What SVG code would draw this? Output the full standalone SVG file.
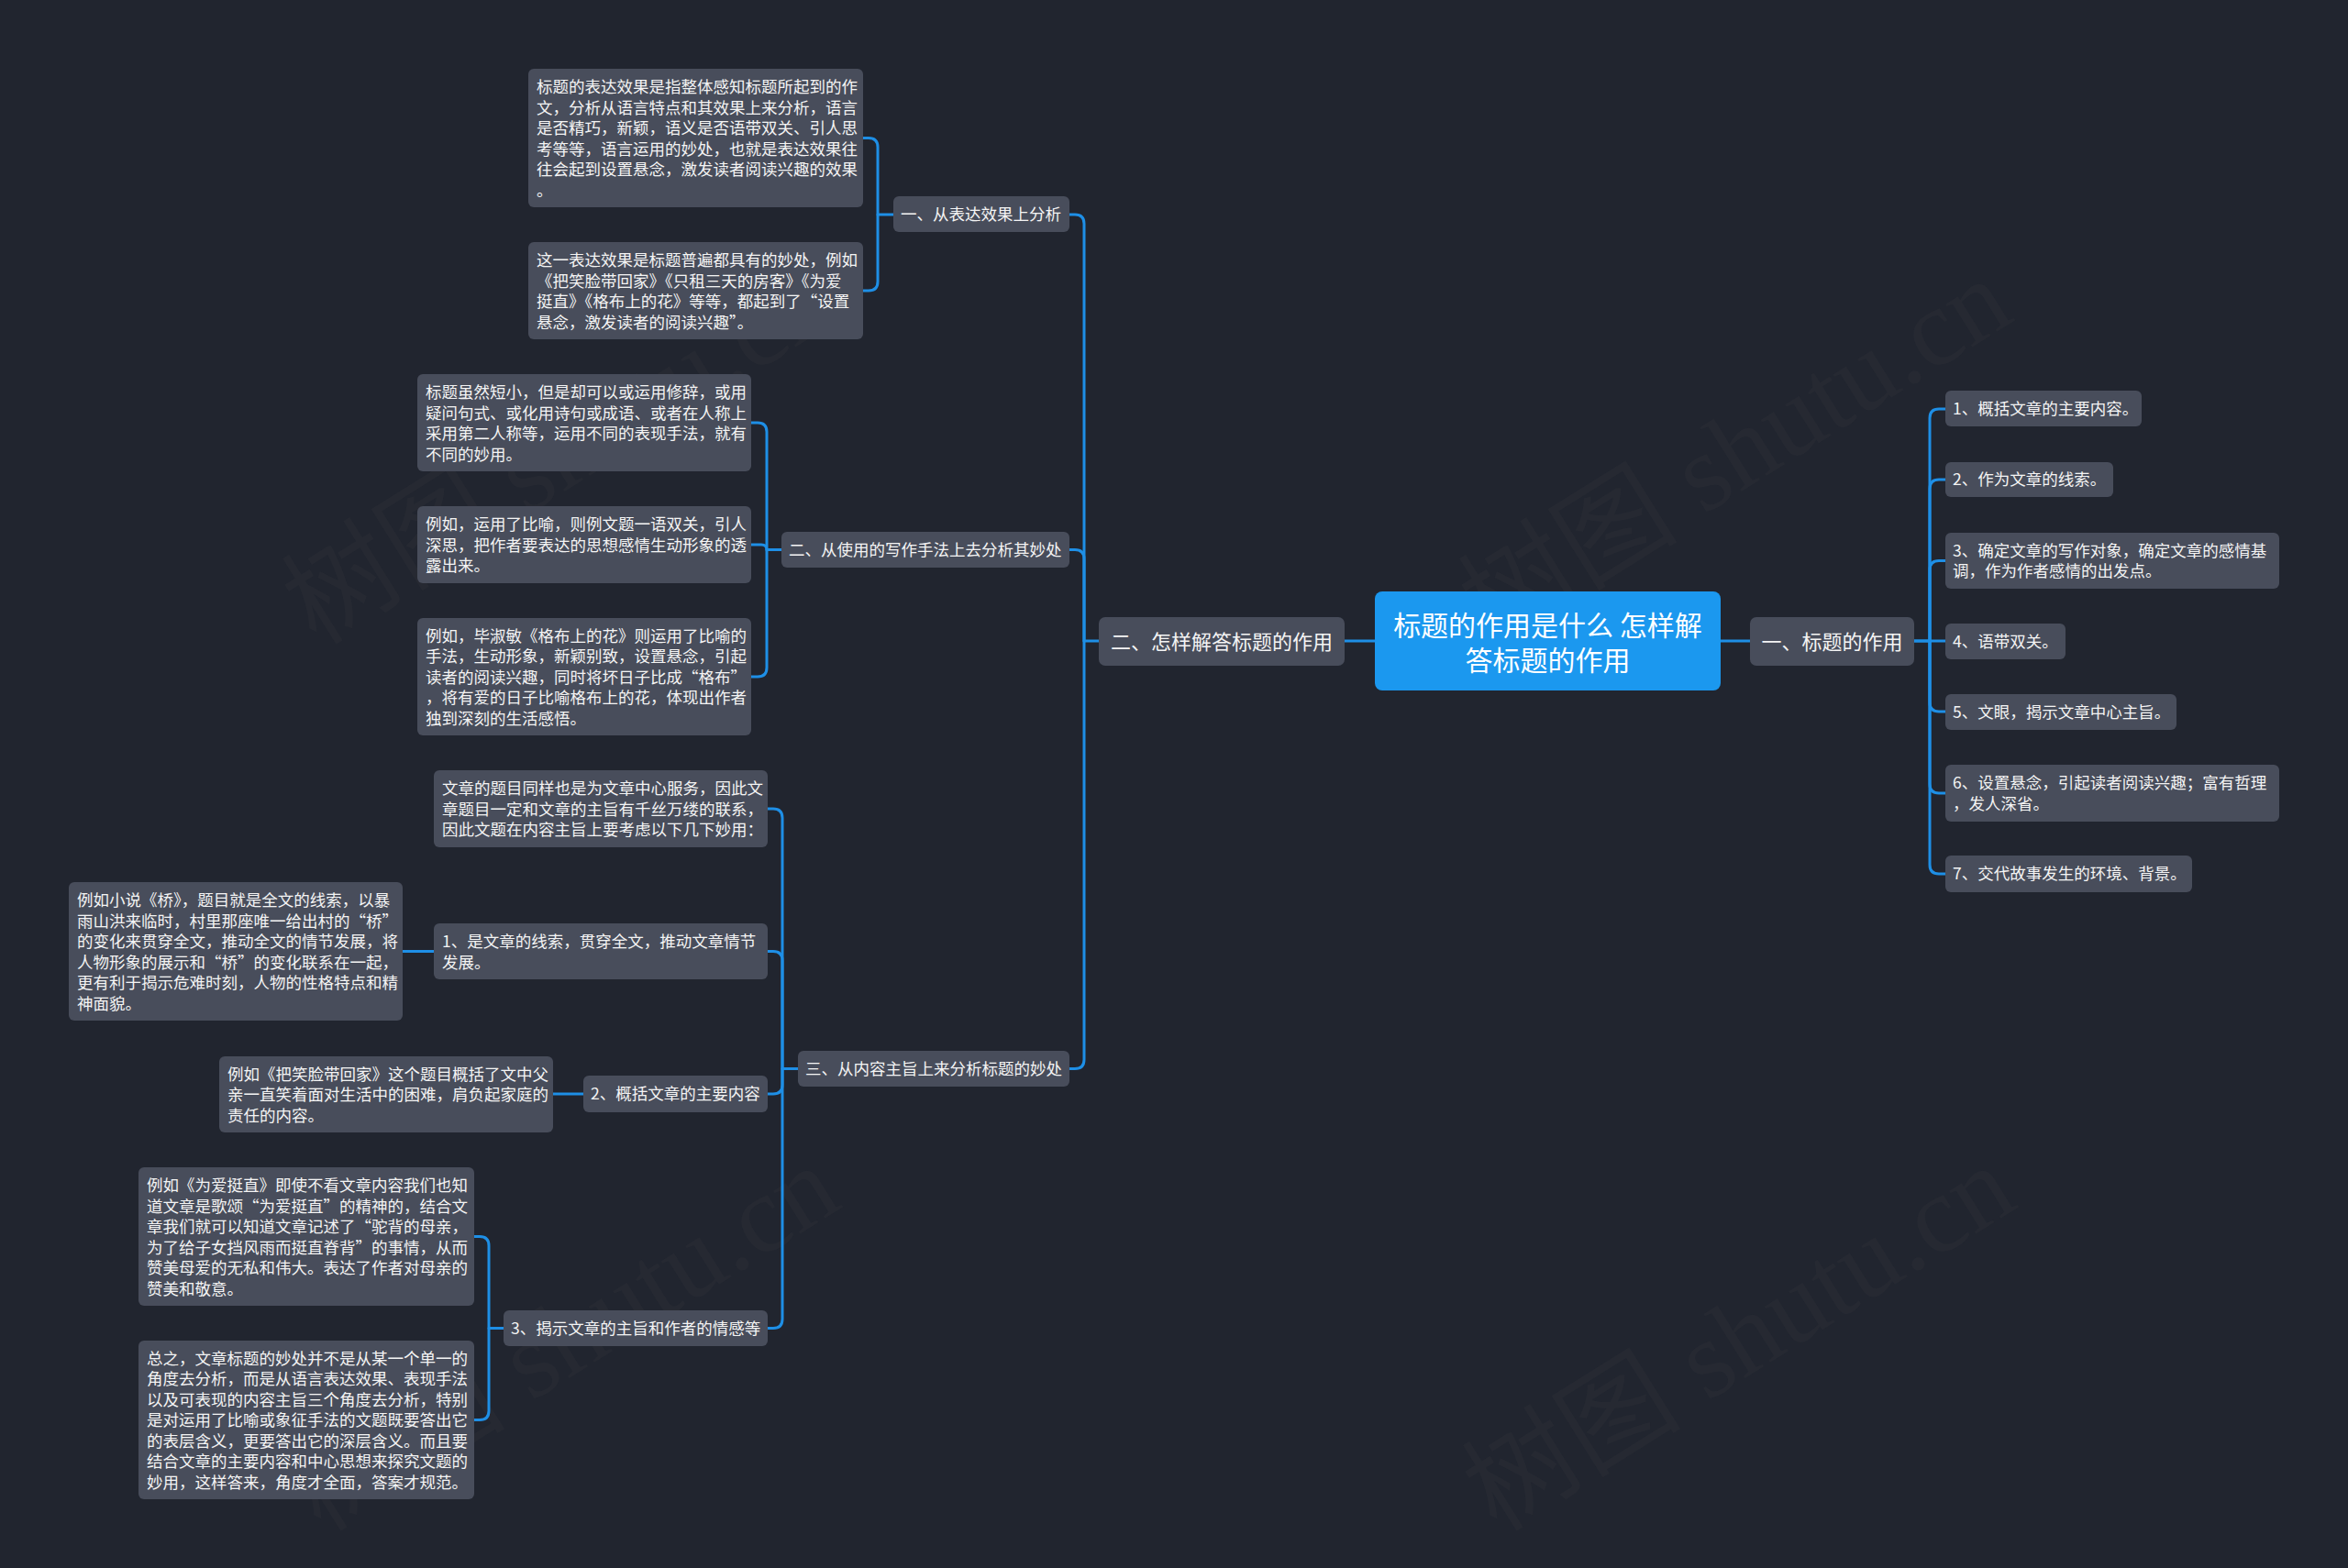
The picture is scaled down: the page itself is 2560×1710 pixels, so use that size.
<svg xmlns="http://www.w3.org/2000/svg" width="2560" height="1710" viewBox="0 0 2560 1710">
<style>
.bg{fill:#21252f}
.nd{fill:#484d5b}
.root{fill:#1b98ef}
.t{font-family:"Noto Sans CJK SC","Noto Sans",sans-serif;font-size:17.5px;fill:#f4f4f4;dominant-baseline:central;transform:translateY(-1.5px)}
.t1{font-family:"Noto Sans CJK SC","Noto Sans",sans-serif;font-size:22px;fill:#f4f4f4;dominant-baseline:central;text-anchor:middle;transform:translateY(-2px)}
.tr{font-family:"Noto Sans CJK SC","Noto Sans",sans-serif;font-size:30px;fill:#ffffff;dominant-baseline:central;text-anchor:middle;transform:translateY(-1px)}
.c{fill:none;stroke:#1e8fe6;stroke-width:3;stroke-linecap:round;stroke-linejoin:round}
.wm{font-family:"Liberation Serif","Noto Sans CJK SC",serif;font-size:120px;fill:#5a5a5a;fill-opacity:0.09}
</style>
<rect class="bg" x="0" y="0" width="2560" height="1710"/>

<g id="watermarks">
<text class="wm" transform="translate(345,705) rotate(-32)">树图 shutu.cn</text>
<text class="wm" transform="translate(1628,705) rotate(-32)">树图 shutu.cn</text>
<text class="wm" transform="translate(350,1672) rotate(-32)">树图 shutu.cn</text>
<text class="wm" transform="translate(1632,1672) rotate(-32)">树图 shutu.cn</text>
</g>

<g id="connectors">
<path class="c" d="M1876,699 H1908"/>
<path class="c" d="M1499,699 H1466"/>
<path class="c" d="M2087,699 H2104 V456 Q2104,446 2114,446 H2121"/>
<path class="c" d="M2104,699 V533 Q2104,523 2114,523 H2121"/>
<path class="c" d="M2104,699 V621.5 Q2104,611.5 2114,611.5 H2121"/>
<path class="c" d="M2087,699 H2121"/>
<path class="c" d="M2104,699 V766 Q2104,776 2114,776 H2121"/>
<path class="c" d="M2104,699 V855 Q2104,865 2114,865 H2121"/>
<path class="c" d="M2104,699 V943 Q2104,953 2114,953 H2121"/>
<path class="c" d="M1198,699 H1182 V244 Q1182,234 1172,234 H1166"/>
<path class="c" d="M1182,699 V609.5 Q1182,599.5 1172,599.5 H1166"/>
<path class="c" d="M1182,699 V1155.5 Q1182,1165.5 1172,1165.5 H1166"/>
<path class="c" d="M974,234 H957 V160.5 Q957,150.5 947,150.5 H941"/>
<path class="c" d="M957,234 V307 Q957,317 947,317 H941"/>
<path class="c" d="M852,599.5 H836 V471 Q836,461 826,461 H819"/>
<path class="c" d="M836,599.5 Q836,594 830,594 H819"/>
<path class="c" d="M836,599.5 V728 Q836,738 826,738 H819"/>
<path class="c" d="M870,1165.5 H853 V892 Q853,882 843,882 H837"/>
<path class="c" d="M853,1165.5 V1047.5 Q853,1037.5 843,1037.5 H837"/>
<path class="c" d="M853,1165.5 V1183 Q853,1193 843,1193 H837"/>
<path class="c" d="M853,1165.5 V1438.5 Q853,1448.5 843,1448.5 H837"/>
<path class="c" d="M473,1037.5 H439"/>
<path class="c" d="M636,1193 H603"/>
<path class="c" d="M549,1448.5 H533 V1358.5 Q533,1348.5 523,1348.5 H517"/>
<path class="c" d="M533,1448.5 V1538.5 Q533,1548.5 523,1548.5 H517"/>
</g>

<g id="root">
<rect class="root" x="1499" y="645" width="377" height="108" rx="8"/>
<text class="tr" x="1687.5" y="681">标题的作用是什么 怎样解</text>
<text class="tr" x="1687.5" y="719">答标题的作用</text>
</g>

<g id="n-right-main">
<rect class="nd" x="1908" y="673" width="179" height="53" rx="7"/>
<text class="t1" x="1997.5" y="699.5">一、标题的作用</text>
</g>
<g id="n-left-main">
<rect class="nd" x="1198" y="673" width="268" height="53" rx="7"/>
<text class="t1" x="1332" y="699.5">二、怎样解答标题的作用</text>
</g>

<g id="r1"><rect class="nd" x="2121" y="426" width="214" height="39" rx="6"/><text class="t" x="2129" y="446">1、概括文章的主要内容。</text></g>
<g id="r2"><rect class="nd" x="2121" y="504" width="183" height="38" rx="6"/><text class="t" x="2129" y="523">2、作为文章的线索。</text></g>
<g id="r3"><rect class="nd" x="2121" y="581" width="364" height="61" rx="6"/><text class="t" x="2129" y="600.25"><tspan x="2129">3、确定文章的写作对象，确定文章的感情基</tspan><tspan x="2129" dy="22.5">调，作为作者感情的出发点。</tspan></text></g>
<g id="r4"><rect class="nd" x="2121" y="680" width="131" height="39" rx="6"/><text class="t" x="2129" y="699.5">4、语带双关。</text></g>
<g id="r5"><rect class="nd" x="2121" y="757" width="252" height="39" rx="6"/><text class="t" x="2129" y="776.5">5、文眼，揭示文章中心主旨。</text></g>
<g id="r6"><rect class="nd" x="2121" y="834" width="364" height="62" rx="6"/><text class="t" x="2129" y="853.75"><tspan x="2129">6、设置悬念，引起读者阅读兴趣；富有哲理</tspan><tspan x="2129" dy="22.5">，发人深省。</tspan></text></g>
<g id="r7"><rect class="nd" x="2121" y="933" width="269" height="40" rx="6"/><text class="t" x="2129" y="953">7、交代故事发生的环境、背景。</text></g>

<g id="b1"><rect class="nd" x="974" y="214" width="192" height="39" rx="6"/><text class="t" x="982" y="233.5">一、从表达效果上分析</text></g>
<g id="b2"><rect class="nd" x="852" y="580" width="314" height="39" rx="6"/><text class="t" x="860" y="599.5">二、从使用的写作手法上去分析其妙处</text></g>
<g id="b3"><rect class="nd" x="870" y="1146" width="296" height="39" rx="6"/><text class="t" x="878" y="1165.5">三、从内容主旨上来分析标题的妙处</text></g>

<g id="b1c1"><rect class="nd" x="576" y="75" width="365" height="151" rx="6"/><text class="t" x="585" y="94.75"><tspan x="585">标题的表达效果是指整体感知标题所起到的作</tspan><tspan x="585" dy="22.5">文，分析从语言特点和其效果上来分析，语言</tspan><tspan x="585" dy="22.5">是否精巧，新颖，语义是否语带双关、引人思</tspan><tspan x="585" dy="22.5">考等等，语言运用的妙处，也就是表达效果往</tspan><tspan x="585" dy="22.5">往会起到设置悬念，激发读者阅读兴趣的效果</tspan><tspan x="585" dy="22.5">。</tspan></text></g>
<g id="b1c2"><rect class="nd" x="576" y="264" width="365" height="106" rx="6"/><text class="t" x="585" y="283.5"><tspan x="585">这一表达效果是标题普遍都具有的妙处，例如</tspan><tspan x="585" dy="22.5">《把笑脸带回家》《只租三天的房客》《为爱</tspan><tspan x="585" dy="22.5">挺直》《格布上的花》等等，都起到了“设置</tspan><tspan x="585" dy="22.5">悬念，激发读者的阅读兴趣”。</tspan></text></g>

<g id="b2c1"><rect class="nd" x="455" y="408" width="364" height="106" rx="6"/><text class="t" x="464" y="427.5"><tspan x="464">标题虽然短小，但是却可以或运用修辞，或用</tspan><tspan x="464" dy="22.5">疑问句式、或化用诗句或成语、或者在人称上</tspan><tspan x="464" dy="22.5">采用第二人称等，运用不同的表现手法，就有</tspan><tspan x="464" dy="22.5">不同的妙用。</tspan></text></g>
<g id="b2c2"><rect class="nd" x="455" y="552" width="364" height="84" rx="6"/><text class="t" x="464" y="571.5"><tspan x="464">例如，运用了比喻，则例文题一语双关，引人</tspan><tspan x="464" dy="22.5">深思，把作者要表达的思想感情生动形象的透</tspan><tspan x="464" dy="22.5">露出来。</tspan></text></g>
<g id="b2c3"><rect class="nd" x="455" y="674" width="364" height="128" rx="6"/><text class="t" x="464" y="693"><tspan x="464">例如，毕淑敏《格布上的花》则运用了比喻的</tspan><tspan x="464" dy="22.5">手法，生动形象，新颖别致，设置悬念，引起</tspan><tspan x="464" dy="22.5">读者的阅读兴趣，同时将坏日子比成“格布”</tspan><tspan x="464" dy="22.5">，将有爱的日子比喻格布上的花，体现出作者</tspan><tspan x="464" dy="22.5">独到深刻的生活感悟。</tspan></text></g>

<g id="b3c1"><rect class="nd" x="473" y="840" width="364" height="84" rx="6"/><text class="t" x="482" y="859.5"><tspan x="482">文章的题目同样也是为文章中心服务，因此文</tspan><tspan x="482" dy="22.5">章题目一定和文章的主旨有千丝万缕的联系，</tspan><tspan x="482" dy="22.5">因此文题在内容主旨上要考虑以下几下妙用：</tspan></text></g>
<g id="b3c2"><rect class="nd" x="473" y="1007" width="364" height="61" rx="6"/><text class="t" x="482" y="1026.5"><tspan x="482">1、是文章的线索，贯穿全文，推动文章情节</tspan><tspan x="482" dy="22.5">发展。</tspan></text></g>
<g id="b3c2c"><rect class="nd" x="75" y="962" width="364" height="151" rx="6"/><text class="t" x="84" y="981.5"><tspan x="84">例如小说《桥》，题目就是全文的线索，以暴</tspan><tspan x="84" dy="22.5">雨山洪来临时，村里那座唯一给出村的“桥”</tspan><tspan x="84" dy="22.5">的变化来贯穿全文，推动全文的情节发展，将</tspan><tspan x="84" dy="22.5">人物形象的展示和“桥”的变化联系在一起，</tspan><tspan x="84" dy="22.5">更有利于揭示危难时刻，人物的性格特点和精</tspan><tspan x="84" dy="22.5">神面貌。</tspan></text></g>
<g id="b3c3"><rect class="nd" x="636" y="1173" width="201" height="40" rx="6"/><text class="t" x="644" y="1193">2、概括文章的主要内容</text></g>
<g id="b3c3c"><rect class="nd" x="239" y="1152" width="364" height="83" rx="6"/><text class="t" x="248" y="1171.25"><tspan x="248">例如《把笑脸带回家》这个题目概括了文中父</tspan><tspan x="248" dy="22.5">亲一直笑着面对生活中的困难，肩负起家庭的</tspan><tspan x="248" dy="22.5">责任的内容。</tspan></text></g>
<g id="b3c4"><rect class="nd" x="549" y="1429" width="288" height="39" rx="6"/><text class="t" x="557" y="1448.5">3、揭示文章的主旨和作者的情感等</text></g>
<g id="b3c4c1"><rect class="nd" x="151" y="1273" width="366" height="151" rx="6"/><text class="t" x="160" y="1292.5"><tspan x="160">例如《为爱挺直》即使不看文章内容我们也知</tspan><tspan x="160" dy="22.5">道文章是歌颂“为爱挺直”的精神的，结合文</tspan><tspan x="160" dy="22.5">章我们就可以知道文章记述了“驼背的母亲，</tspan><tspan x="160" dy="22.5">为了给子女挡风雨而挺直脊背”的事情，从而</tspan><tspan x="160" dy="22.5">赞美母爱的无私和伟大。表达了作者对母亲的</tspan><tspan x="160" dy="22.5">赞美和敬意。</tspan></text></g>
<g id="b3c4c2"><rect class="nd" x="151" y="1462" width="366" height="173" rx="6"/><text class="t" x="160" y="1481"><tspan x="160">总之，文章标题的妙处并不是从某一个单一的</tspan><tspan x="160" dy="22.5">角度去分析，而是从语言表达效果、表现手法</tspan><tspan x="160" dy="22.5">以及可表现的内容主旨三个角度去分析，特别</tspan><tspan x="160" dy="22.5">是对运用了比喻或象征手法的文题既要答出它</tspan><tspan x="160" dy="22.5">的表层含义，更要答出它的深层含义。而且要</tspan><tspan x="160" dy="22.5">结合文章的主要内容和中心思想来探究文题的</tspan><tspan x="160" dy="22.5">妙用，这样答来，角度才全面，答案才规范。</tspan></text></g>
</svg>
